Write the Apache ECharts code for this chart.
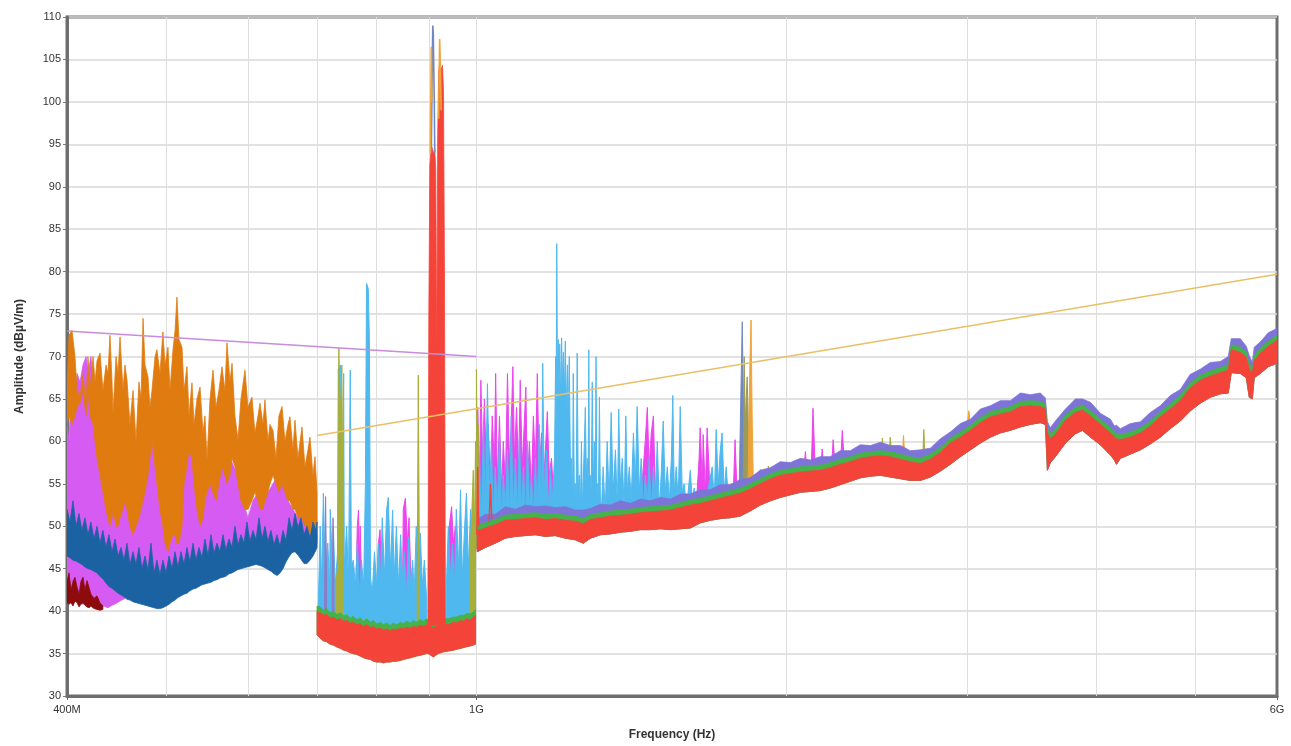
<!DOCTYPE html>
<html>
<head>
<meta charset="utf-8">
<script src="https://cdn.jsdelivr.net/npm/echarts@6/dist/echarts.min.js"></script>
<style>html,body{margin:0;padding:0;background:#fff}#c{width:1291px;height:746px}</style>
</head>
<body>
<div id="c"></div>
<script>
// ---------------- axis ticks / labels ----------------
const xTickValues = [400, 1000, 6000];           // MHz
const xTickLabels = ['400M', '1G', '6G'];
const xGridValues = [500, 600, 700, 800, 900, 1000, 2000, 3000, 4000, 5000];

// ---------------- limit lines ----------------
const limitLow  = [[400, 73], [1000, 70]];
const limitHigh = [[700, 60.7], [6000, 79.7]];

// ---------------- 400–700 MHz ----------------
const orangeFreq = [400,401.8,404.5,407.2,409.1,411.8,414.6,417.4,419.2,421.1,
 424.0,425.9,427.8,430.7,433.5,436.5,438.4,440.4,442.4,443.4,
 446.4,448.4,450.4,453.4,455.4,457.5,460.5,463.7,466.8,469.9,
 472.1,474.2,476.3,479.5,481.6,483.8,487.1,489.2,492.5,495.8,
 498.1,501.4,503.7,507.1,509.4,511.6,513.9,517.4,519.7,523.2,
 525.6,529.1,531.5,535.1,538.7,542.3,544.7,547.2,550.9,554.6,
 558.3,562.0,565.8,569.6,572.2,576.1,578.7,582.5,586.5,590.4,
 595.7,599.7,605.1,609.2,613.3,616.1,620.2,623.0,627.2,630.0,
 634.3,638.5,642.8,647.2,651.5,655.9,658.8,663.3,666.3,670.7,
 676.8,681.3,685.9,689.0,693.6,696.8,700];
const orangeHi = [66,72.5,73.1,70,66,65.2,68,64,70,66,
 70,67,69.5,70.4,66,69,68,72.5,67,63.3,
 70,68,72.3,66,69,67.2,62,66,60,67,
 65,74.5,69,67.6,64,66,70,70.8,68,72.9,
 69,71.1,66,70.8,73,77,72,71.1,66,68.8,
 63,66.9,62,65,66.4,61,63,57.8,65,68.4,
 64,66,68.8,66,71.6,67,69.2,63,60.2,65,
 68.4,64,65.2,61,63,64.5,62,64.9,60,62,
 61.3,58,63,64.1,60,62,62.9,59,62.5,58,
 61.7,57,59,60.5,56,58.2,54];
const orangeLo = [62,63,62,63,64,64.5,66,63,66,63,
 62,60,58,56,54,52,51,50,51,52,
 50,50,51,52,53,52,50,49,50,51,
 52,53,54,56,58,60,57,55,52,50,
 48,47,48,49,49,48,48,50,55,57,
 59,58,55,52,50,51,53,54,55,54,
 53,55,57,56,55,56,58,57,55,53,
 52,52,53,54,53,52,52,53,54,55,
 56,55,54,55,54,53,53,52,52,51,
 51,50,50,49,49,48,48];

const magentaFreq = [400,401.8,403.6,406.3,409.1,411.8,414.6,417.4,419.2,422.0,424.9,427.8,430.7,
 434.5,438.4,442.4,446.4,450.4,455.4,
 460.5,465.7,471.0,476.3,479.5,482.7,486.0,489.2,492.5,498.1,
 503.7,509.4,515.1,519.7,523.2,526.8,530.3,533.9,538.7,544.7,
 550.9,555.8,560.8,565.8,570.9,576.1,581.2,586.5,593.1,599.7,
 606.4,613.3,620.2,627.2,634.3,641.4,648.6,655.9,663.3,670.7,
 679.9,689.0,700];
const magentaHi = [62,60,66,64,68,67,69,70,68,70,66,63,60,
 57,55,54,55,53,55,
 52,54,56,58,57,61,58,55,52,49,
 48,50,51,55,58,61,58,54,52,53,
 56,55,57,58,57,58,57,56,53,51,
 53,54,53,54,55,56,55,53,52,51,
 51,50,49];
const magentaLo = [41.5,41.2,41.5,41,41.3,41,40.8,41,40.7,40.9,40.6,40.8,40.5,
 40.6,40.4,40.7,40.9,41.2,41.5,
 42.3,42,41.9,41.7,41.6,41.5,41.4,41.3,41.3,41.5,
 41.9,42.3,42.7,43,43.1,43.4,43.6,43.7,44,44.2,
 44.4,44.6,44.8,45,45.1,45.4,45.6,45.9,46,46.2,
 46.4,46.4,46.3,45.9,45.4,45.2,46,47.2,47.9,47.6,
 46.6,47,48.5];

const blueFreq = [400.0,402.7,405.4,408.1,410.9,413.6,416.4,419.2,422.0,424.9,
 427.8,430.6,433.5,436.5,439.4,442.4,445.4,448.4,451.4,454.4,
 457.5,460.6,463.7,466.8,469.9,473.1,476.3,479.5,482.7,486.0,
 489.2,492.5,495.8,499.2,502.6,506.0,509.4,512.8,516.3,519.7,
 523.2,526.7,530.3,533.9,537.5,541.1,544.7,548.4,552.1,555.8,
 559.5,563.3,567.1,570.9,574.8,578.7,582.5,586.5,590.4,594.4,
 598.4,602.4,606.5,610.6,614.7,618.9,623.0,627.2,631.5,635.7,
 640.0,644.3,648.6,653.0,657.4,661.9,666.3,670.8,675.3,679.9,
 684.4,689.1,693.7,698.4,700];
const blueLo = [46.5,46.3,46,45.9,45.7,45.5,45.2,45,44.9,44.7,
 44.5,44.1,43.8,43.3,42.9,42.7,42.4,42.1,41.9,41.7,
 41.4,41.3,41.1,41,40.9,40.8,40.7,40.6,40.5,40.4,
 40.3,40.3,40.4,40.6,40.8,41.1,41.3,41.6,41.8,42,
 42.1,42.4,42.6,42.7,42.9,43.1,43.2,43.3,43.4,43.6,
 43.7,43.9,44,44.1,44.4,44.5,44.7,44.9,45,45.1,
 45.2,45.3,45.4,45.5,45.4,45.3,45.1,44.9,44.7,44.4,
 44.2,44.5,45,45.8,46.4,46.9,47,46.6,46.1,45.6,
 45.6,46,46.5,47.2,47.5];
const blueHi = [52,50.5,53,50,51.5,49.5,51,49,50.5,48.5,
 50,48,49.5,47.5,49,47,48.5,46.5,47.5,46,
 48,45.5,47,45.5,47.5,45,46.5,44.8,48,44.5,
 46,44.3,46,44.5,46.5,45,47,45.2,47,45.5,
 47.5,45.8,48,46,47.5,46.3,48.5,46.5,49,46.8,
 48,47,49,47.2,48.5,47.5,50,47.8,49,48,
 50.5,48.2,49.5,48.4,51,48.5,50,48.2,49.5,47.8,
 49,47.6,49.5,48.3,51,49.5,51.5,49.8,51,49,
 50,48.6,50.5,49.5,50.5];

const darkRedFreq = [400,401.8,403.6,405.4,407.2,409.1,410.9,412.7,414.6,416.4,418.3,420.2,422.0,424.9,427.8,430.6,433.5];
const darkRedLo = [41,40.8,41,40.6,41.2,41,40.5,40.8,41,40.7,40.5,40.4,40.6,40.3,40.2,40.1,40.2];
const darkRedHi = [43.5,44.5,42.5,43.5,44,42.8,42,43.5,44,42.5,43.6,42.8,42,41.5,41.8,41,40.6];

// ---------------- 700 MHz – 1 GHz ----------------
const redBFreq = [700,705,710,715,721,726,731,738,743,748,
 754,759,765,771,777,782,789,794,800,807,
 812,818,825,830,836,844,849,855,863,868,
 874,882,888,894,898,908,918,929,939,950,
 956,965,971,978,987,993,998];
const redBLo = [37.2,36.8,36.5,36.4,36.1,36.0,35.8,35.6,35.4,35.3,
 35.1,35.0,34.9,34.7,34.5,34.4,34.3,34.1,34.0,34.0,
 33.9,34.0,34.0,34.1,34.1,34.2,34.3,34.4,34.5,34.6,
 34.7,34.8,34.9,35.0,35.0,34.6,35.0,35.2,35.3,35.4,
 35.5,35.6,35.7,35.8,35.9,36.0,36.1];
const redBHi = [40,39.8,39.5,39.6,39.2,39.3,39.0,39.1,38.8,38.9,
 38.6,38.7,38.4,38.5,38.2,38.4,38.1,38.2,37.9,38.0,
 37.8,37.9,37.7,37.9,37.8,38.0,37.9,38.1,38.0,38.2,
 38.1,38.3,38.2,38.4,38.3,38.0,38.4,38.5,38.4,38.7,
 38.6,38.9,38.8,39.1,39.0,39.3,39.5];
const greenBHi = [40.6,40.5,40.1,40.3,39.8,40.0,39.6,39.8,39.4,39.6,
 39.2,39.4,39.0,39.2,38.8,39.1,38.7,38.9,38.5,38.7,
 38.4,38.6,38.3,38.6,38.4,38.7,38.5,38.8,38.6,38.9,
 38.7,39.0,38.8,39.1,38.9,38.6,39.1,39.1,39.1,39.3,
 39.3,39.5,39.5,39.7,39.7,39.9,40.2];

const peakFreq = [897,899,901,903,905,907,909,911,913,915,917,919,921,923,925,927,929,931,933];
const peakLo = [38.2,38.3,38.3,38.2,38.4,38.3,38.2,38.3,38.4,38.3,38.4,38.5,38.4,38.5,38.4,38.5,38.6,38.5,38.6];
const peakHi = [38.6,75,92.5,94,94.7,94.3,93.8,94.5,92,70,96,103.5,104.6,104.2,103.8,104.3,101,80,38.8];
const steelPeak = [[904,94],[906,105],[907,109],[908,108],[910,100],[911,94]];
const orangePeak = [[902,94],[904,106.5],[905,100],[905,null],[919,98],[921,107.4],[923,103],[924,99]];

const lightBlueB = [[702,41],[705,50],[707,43],[710,53.9],[713,44],[717,48],[720,43],[721,52],[725,44],[726,50],
 [729,43],[733,47],[734,68.5],[738,69],[739,44],[743,68],[744,45],[748,50],[751,43],[754,68.4],
 [756,45],[759,46],[763,43],[766,48],[770,42],[773,46],[777,43],[780,55],[782,78.6],[785,78],
 [787,72],[789,44],[792,42],[796,47],[800,43],[803,48],[807,44],[810,51],[814,44],[818,52],
 [821,53.4],[825,45],[829,51.9],[832,44],[836,50],[840,43],[844,49],[847,44],[851,47],[855,42],
 [859,48.7],[863,43],[867,46],[870,42],[874,50],[878,44],[882,49.2],[886,43],[890,46],[894,42],[894,null],
 [935,43],[939,50],[944,44],[948,48],[952,43],[956,52],[961,45],[965,54.3],[969,44],[974,50],
 [978,53.9],[982,45],[987,52],[991,44],[996,51],[998,42]];
const violetB = [[712,42],[713.5,53.5],[715,44],[716,null],[724,42],[725.5,51],[727,43]];
const magentaB = [[764,44],[766,50],[768,51.9],[770,46],[771,50],[773,44],[773,null],
 [801,44],[803,48],[806,49.6],[808,46],[811,48],[813,44],[813,null],
 [848,45],[849,52],[853,53.3],[857,48],[860,51],[863,45],[863,null],
 [938,45],[941,50],[946,52.3],[950,48],[954,50],[957,45]];
const oliveB = [[731,44],[733,45],[735,71],[737,62],[740,69],[742,50],[743,null],
 [876,44],[878,67.8],[880,48],[881,null],
 [985,45],[990,52],[993,56.6],[996,50],[998,60]];

// ---------------- 1 GHz – 6 GHz ----------------
const redCFreq = [1002,1020,1043,1067,1091,1116,1141,1167,1193,1220,
 1248,1270,1291,1320,1350,1380,1411,1443,1476,1510,
 1544,1579,1614,1651,1688,1726,1765,1805,1845,1888,
 1931,1974,2019,2065,2111,2159,2208,2258,2309,2361,
 2415,2470,2525,2583,2641,2701,2762,2825,2888,2954,
 3021,3089,3159,3230,3304,3379,3455,3533,3573,3589,
 3613,3654,3737,3821,3882,3952,4041,4133,4170,4189,
 4226,4322,4420,4519,4621,4725,4832,4942,5053,5168,
 5285,5380,5416,5527,5601,5639,5677,5702,5779,5884,
 6000];
const redCLo = [47,47.5,48,48.6,48.8,48.9,49,48.8,48.9,48.6,
 48.4,48,48.6,49,49.1,49.3,49.4,49.6,49.6,49.7,
 49.6,49.7,49.8,50.4,50.7,50.9,51,51.2,51.8,52.5,
 53,53.4,53.7,54,54.1,54.2,54.5,54.9,55.3,55.7,
 55.9,56,55.8,55.6,55.4,55.4,55.8,56.5,57.3,58.2,
 59,59.8,60.5,61,61.3,61.7,62,62.2,62,56.6,
 57.5,58.2,59.8,60.9,61.3,60.5,59.6,58.4,57.8,57.3,
 58,58.5,59,59.7,60.5,61.5,62.4,63.6,64.5,65.2,
 65.6,65.7,68.1,68,67.5,65.2,65,67.5,68,68.8,
 69.2];
const redCHi = [49.5,49.8,50.2,50.7,50.8,50.9,51,50.8,50.9,50.7,
 50.6,50.3,50.8,51,51.2,51.3,51.4,51.6,51.7,51.8,
 51.9,52.2,52.5,52.7,53,53.3,53.6,53.9,54.4,55,
 55.6,56,56.2,56.4,56.5,56.6,56.9,57.3,57.6,58,
 58.2,58.3,58.2,57.9,57.6,57.4,57.9,58.7,59.8,60.5,
 61.3,62.2,62.9,63.2,63.5,64.1,64.2,64.1,63.8,61,
 60.3,60.8,62.5,63.4,63.7,63,62,61,60.5,60.3,
 60.2,60.5,61,61.8,62.9,63.8,64.8,66.3,67.2,67.7,
 68.1,68.4,70.8,70.5,69.9,68.5,68,69.5,70.4,71.2,
 71.9];
const greenCHi = [50.1,50.4,50.8,51.3,51.4,51.5,51.6,51.4,51.5,51.3,
 51.2,50.9,51.4,51.6,51.8,51.9,52.0,52.2,52.3,52.4,
 52.5,52.8,53.1,53.3,53.6,53.9,54.2,54.5,55.0,55.6,
 56.2,56.6,56.8,57.0,57.1,57.2,57.5,57.9,58.2,58.6,
 58.8,58.9,58.8,58.5,58.2,58.0,58.5,59.3,60.4,61.1,
 61.9,62.8,63.5,63.8,64.1,64.7,64.8,64.7,64.4,61.6,
 60.9,61.4,63.1,64.0,64.3,63.6,62.6,61.6,61.1,60.9,
 60.8,61.1,61.6,62.4,63.5,64.4,65.4,66.9,67.8,68.3,
 68.7,69.0,71.4,71.1,70.5,69.1,68.6,70.1,71.0,71.8,
 72.5];
const violetCHi = [50.8,51.4,51.4,52.3,52.0,52.5,52.3,52.4,52.2,52.3,
 51.9,51.9,52.1,52.6,52.5,53.0,52.7,53.2,53.0,53.4,
 53.2,53.8,53.8,54.3,54.3,54.9,54.9,55.5,55.7,56.6,
 56.9,57.6,57.5,58.0,57.8,58.2,58.2,58.9,58.9,59.6,
 59.5,59.9,59.5,59.5,58.9,59.0,59.2,60.3,61.1,62.1,
 62.6,63.8,64.2,64.8,64.8,65.7,65.5,65.7,65.1,62.3,
 61.6,62.4,63.8,65.0,65.0,64.6,63.3,62.6,61.8,61.9,
 61.5,62.1,62.3,63.4,64.2,65.4,66.1,67.9,68.5,69.3,
 69.4,70.0,72.1,72.1,71.2,70.1,69.3,71.1,71.7,72.8,
 73.3];

const oliveC = [[1000,68.5],[1002,58],[1004,62],[1007,52]];
const lightBlueC = [[1002,50],[1007,58],[1011,51],[1016,62],[1020,52],[1025,66.8],[1030,53],[1034,60],[1039,51],[1043,57],
 [1048,52],[1053,61],[1058,51],[1062,56],[1067,52],[1072,59],[1077,51],[1081,63],[1086,52],[1091,58],
 [1096,51],[1101,61],[1106,52],[1111,57],[1116,51],[1121,60],[1126,52],[1131,56],[1136,51],[1141,58],
 [1146,52],[1151,62],[1157,53],[1160,69.2],[1164,54],[1170,59],[1175,52],[1180,57],[1185,53],[1191,58],
 [1194,70],[1195,60],[1197,83.3],[1199,66],[1201,72],[1203,65],[1205,71.5],[1208,64],[1210,72.2],[1213,66],
 [1215,70.5],[1218,65],[1220,71.8],[1223,64],[1226,69],[1228,62],[1231,70],[1234,58],[1237,58],[1240,53],
 [1242,68],[1245,54],[1248,55],[1250,53],[1253,70.4],[1256,54],[1259,56],[1262,52],[1265,60],[1268,52],
 [1276,64],[1279,56],[1282,58],[1284,55],[1286,70.8],[1288,55],[1290,56],[1293,54],[1296,67],[1299,55],
 [1302,60],[1305,54],[1307,70],[1309,55],[1311,55],[1314,53],[1317,65.2],[1320,52],[1323,52],[1328,57],
 [1334,51.5],[1340,60],[1346,53],[1352,63.4],[1358,54],[1365,59],[1371,52],[1375,63.8],[1380,55],[1386,58],
 [1392,52],[1397,63],[1402,54],[1408,57],[1414,53],[1421,61],[1427,55],[1433,64.1],[1440,54],[1446,58],
 [1453,52],[1459,56],[1466,53],[1472,58],[1479,52],[1486,57],[1492,53],[1499,60],[1506,52],[1512,56],
 [1519,62.4],[1526,54],[1533,57],[1540,53],[1547,58],[1552,65.4],[1557,54],[1564,57],[1571,53],[1578,64.1],
 [1585,54],[1592,55],[1600,52.5],[1606,54],[1614,56.6],[1621,53],[1628,54.5],[1635,52.5],[1643,53.5],[1650,52.5],
 [1665,54],[1672,53],[1695,57],[1703,53],[1710,61.4],[1718,55],[1726,59],[1733,61],[1741,54],[1749,57],
 [1757,53.5],[1769,55],[1776,54]];
const magentaC = [[1000,50],[1003,64],[1007,55],[1010,67.2],[1014,58],[1018,65],[1023,56],[1027,62],[1032,54],[1036,63],
 [1041,57],[1044,68],[1048,55],[1053,63],[1058,54],[1062,60],[1067,55],[1072,68],[1077,57],[1081,62],
 [1085,68.8],[1089,58],[1094,64],[1099,56],[1103,67.2],[1108,57],[1113,62],[1117,66.4],[1121,55],[1126,60],
 [1131,54],[1136,63],[1141,57],[1146,68],[1151,56],[1157,61],[1162,55],[1167,59],[1172,63.5],[1177,56],
 [1183,58],[1188,54],[1193,52],[1193,null],
 [1443,52],[1459,60],[1466,64],[1472,57],[1479,61],[1486,63],[1492,55],[1499,52],[1499,null],
 [1635,52],[1646,58],[1650,61.6],[1658,55],[1661,60.8],[1669,54],[1676,61.6],[1684,56],[1691,52],[1691,null],
 [1776,53],[1784,60.2],[1792,54],[1792,null],
 [2079,55.5],[2088,58.8],[2097,56],[2097,null],
 [2115,56],[2124,63.9],[2134,57],[2134,null],
 [2159,56],[2168,59.1],[2178,56.5],[2178,null],
 [2213,56.5],[2222,60.2],[2232,57],[2232,null],
 [2258,57],[2268,61.3],[2278,57.5]];
const steelC = [[1800,54],[1809,68],[1813,74.1],[1817,66],[1821,60],[1825,55]];
const oliveGrayC = [[1817,55],[1821,70],[1825,62],[1833,67.6],[1841,58],[1845,55]];
const goldC = [[1837,55],[1841,64],[1845,70],[1849,74.3],[1854,62],[1858,56]];
const oliveSpecks = [[1885,55.5],[1888,56.7],[1891,55.5],[1891,null],[1918,55.8],[1922,57.1],[1926,56],[1926,null],
 [2476,59],[2481,60.4],[2486,59.2],[2486,null],[2520,59.2],[2525,60.5],[2530,59.3],[2530,null],
 [2718,59.5],[2722,61.4],[2726,59.6]];
const orangeSpecks = [[2596,59],[2601,60.7],[2606,59],[2606,null],[3000,62],[3010,63.6],[3020,62.3]];
const redRing = [[1001,49],[1003,57],[1005,50],[1005,null],[1029,50.5],[1032,55],[1035,50.8]];

// ---------------- builders ----------------
function band(name, freq, lo, hi, color) {
  if (freq.length !== lo.length || freq.length !== hi.length) {
    throw new Error('length mismatch ' + name + ' ' + freq.length + '/' + lo.length + '/' + hi.length);
  }
  return {
    type: 'custom', name: name, silent: true, coordinateSystem: 'cartesian2d', clip: true,
    data: [[freq[0], lo[0]]],
    renderItem: function (params, api) {
      const pts = [];
      for (let i = 0; i < freq.length; i++) pts.push(api.coord([freq[i], hi[i]]));
      for (let i = freq.length - 1; i >= 0; i--) pts.push(api.coord([freq[i], lo[i]]));
      return { type: 'polygon', shape: { points: pts },
        style: { fill: color, stroke: color, lineWidth: 0.8 } };
    }
  };
}
function envelopeAt(f, fs, vs) {
  if (f <= fs[0]) return vs[0];
  if (f >= fs[fs.length - 1]) return vs[vs.length - 1];
  let i = 0;
  while (i < fs.length - 2 && fs[i + 1] < f) i++;
  const t = (Math.log(f) - Math.log(fs[i])) / (Math.log(fs[i + 1]) - Math.log(fs[i]));
  return vs[i] + t * (vs[i + 1] - vs[i]);
}
function filled(name, pairs, floorFreq, floorVals, color) {
  const segs = []; let cur = [];
  pairs.forEach(function (p) {
    if (p[1] == null) { if (cur.length) segs.push(cur); cur = []; } else cur.push(p);
  });
  if (cur.length) segs.push(cur);
  return {
    type: 'custom', name: name, silent: true, coordinateSystem: 'cartesian2d', clip: true,
    data: [segs[0][0]],
    renderItem: function (params, api) {
      return { type: 'group', children: segs.map(function (s) {
        const pts = s.map(function (p) { return api.coord(p); });
        for (let i = s.length - 1; i >= 0; i--) {
          pts.push(api.coord([s[i][0], envelopeAt(s[i][0], floorFreq, floorVals) + 0.4]));
        }
        return { type: 'polygon', shape: { points: pts },
          style: { fill: color, stroke: color, lineWidth: 1 } };
      }) };
    }
  };
}
function trace(name, pairs, color, width) {
  return { type: 'line', name: name, symbol: 'none', silent: true, connectNulls: false,
    lineStyle: { color: color, width: width }, data: pairs };
}

const C = {
  orange: '#E07B10', magentaA: '#D65BF2', blue: '#1B62A3', darkRed: '#8E0B0B',
  red: '#F4443A', green: '#45B24A', lightBlue: '#4FB8EE', magenta: '#EC45EE',
  olive: '#A7AF3A', steel: '#7088C0', gold: '#EFA43A', violet: '#7E74D8',
  limitViolet: '#C98BDD', limitGold: '#E8C068'
};

const series = [];
series.push({
  type: 'line', name: 'grid', data: [[400, null]], symbol: 'none', silent: true,
  lineStyle: { opacity: 0 },
  markLine: { z: 1, silent: true, symbol: ['none', 'none'], label: { show: false },
    lineStyle: { color: '#dedede', width: 1, type: 'solid' },
    data: xGridValues.map(v => ({ xAxis: v })) }
});
series.push(band('magentaA', magentaFreq, magentaLo, magentaHi, C.magentaA));
series.push(band('orangeA', orangeFreq, orangeLo, orangeHi, C.orange));
series.push(band('blueA', blueFreq, blueLo, blueHi, C.blue));
series.push(band('darkRedA', darkRedFreq, darkRedLo, darkRedHi, C.darkRed));

series.push(filled('magentaB', magentaB, redBFreq, redBLo, C.magenta));
series.push(filled('lightBlueB', lightBlueB, redBFreq, redBLo, C.lightBlue));
series.push(filled('violetB', violetB, redBFreq, redBLo, '#8D7BC9'));
series.push(filled('oliveB', oliveB, redBFreq, redBLo, C.olive));

series.push(filled('magentaC', magentaC, redCFreq, redCLo, C.magenta));
series.push(filled('lightBlueC', lightBlueC, redCFreq, redCLo, C.lightBlue));
series.push(filled('oliveC', oliveC, redCFreq, redCLo, C.olive));
series.push(filled('oliveSpecks', oliveSpecks, redCFreq, redCLo, C.olive));
series.push(filled('orangeSpecks', orangeSpecks, redCFreq, redCLo, C.gold));
series.push(filled('steelC', steelC, redCFreq, redCLo, C.steel));
series.push(filled('oliveGrayC', oliveGrayC, redCFreq, redCLo, '#9C9A58'));
series.push(filled('goldC', goldC, redCFreq, redCLo, C.gold));

series.push(band('greenB', redBFreq, redBLo, greenBHi, C.green));
series.push(band('redB', redBFreq, redBLo, redBHi, C.red));
series.push(band('violetC', redCFreq, redCLo, violetCHi, C.violet));
series.push(band('greenC', redCFreq, redCLo, greenCHi, C.green));
series.push(band('redC', redCFreq, redCLo, redCHi, C.red));

series.push(trace('redRing', redRing, C.red, 1.5));
series.push(band('peaks', peakFreq, peakLo, peakHi, C.red));
series.push(trace('steelPeak', steelPeak, C.steel, 1.6));
series.push(trace('orangePeak', orangePeak, C.gold, 1.6));

series.push(trace('limitLow', limitLow, C.limitViolet, 1.5));
series.push(trace('limitHigh', limitHigh, C.limitGold, 1.5));

function xLabel(v) {
  for (let i = 0; i < xTickValues.length; i++) {
    if (Math.abs(v - xTickValues[i]) / xTickValues[i] < 0.01) return xTickLabels[i];
  }
  return '';
}

const chart = echarts.init(document.getElementById('c'), null, { renderer: 'canvas' });
chart.setOption({
  animation: false,
  backgroundColor: '#ffffff',
  textStyle: { fontFamily: 'Liberation Sans, Arial, sans-serif' },
  grid: { left: 67, right: 14, top: 17, bottom: 50, show: true,
    borderColor: '#6e6e6e', borderWidth: 3, backgroundColor: '#ffffff' },
  xAxis: {
    type: 'log', logBase: 10, min: 400, max: 6000,
    name: 'Frequency (Hz)', nameLocation: 'middle', nameGap: 33,
    nameTextStyle: { fontWeight: 'bold', fontSize: 12, color: '#333' },
    axisLine: { show: true, lineStyle: { color: '#6e6e6e', width: 3 } },
    axisTick: { show: true, customValues: xTickValues, length: 4, lineStyle: { color: '#666' } },
    axisLabel: { customValues: xTickValues, formatter: xLabel, fontSize: 11, color: '#333', margin: 8,
      showMinLabel: true, showMaxLabel: true },
    splitLine: { show: false }
  },
  yAxis: {
    type: 'value', min: 30, max: 110, interval: 5,
    name: 'Amplitude (dBµV/m)', nameLocation: 'middle', nameGap: 41,
    nameTextStyle: { fontWeight: 'bold', fontSize: 12, color: '#333' },
    axisLine: { show: true, lineStyle: { color: '#6e6e6e', width: 3 } },
    axisTick: { show: true, length: 4, lineStyle: { color: '#777' } },
    axisLabel: { fontSize: 11, color: '#333', margin: 6 },
    splitLine: { show: true, lineStyle: { color: '#d8d8d8', width: 1.5 } }
  },
  series: series
});
</script>
</body>
</html>
